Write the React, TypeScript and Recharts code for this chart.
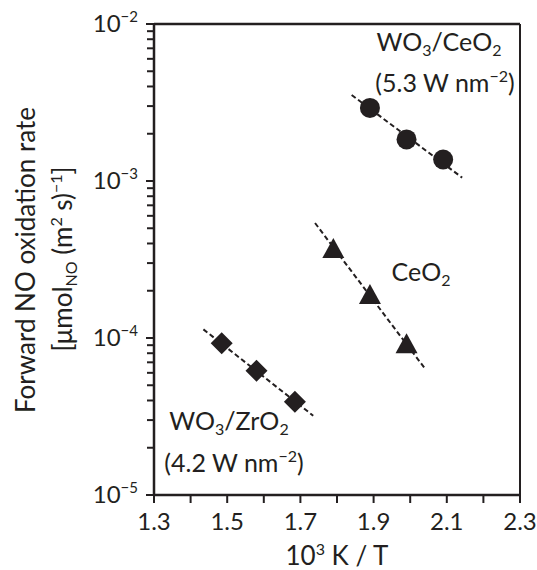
import React from 'react';
import { ScatterChart, Scatter, XAxis, YAxis, ReferenceLine, Customized } from 'recharts';

const INK = '#231f20';
const FONT = 'Lato, "Open Sans", sans-serif';

// axis ticks
const xTicks = [1.3, 1.4, 1.5, 1.6, 1.7, 1.8, 1.9, 2.0, 2.1, 2.2, 2.3];
const xTickLabels = ['1.3', '1.5', '1.7', '1.9', '2.1', '2.3'];
const yMajorTicks = [1e-5, 1e-4, 1e-3, 1e-2];
const yExponents = ['−5', '−4', '−3', '−2'];
const yMinorTicks = [
  2e-5, 3e-5, 4e-5, 5e-5, 6e-5, 7e-5, 8e-5, 9e-5,
  2e-4, 3e-4, 4e-4, 5e-4, 6e-4, 7e-4, 8e-4, 9e-4,
  2e-3, 3e-3, 4e-3, 5e-3, 6e-3, 7e-3, 8e-3, 9e-3,
];
const yTicks = [...yMajorTicks, ...yMinorTicks].sort((a, b) => a - b);

// measured rates
const wo3CeO2 = [
  { x: 1.89, y: 2.92e-3 },
  { x: 1.99, y: 1.84e-3 },
  { x: 2.09, y: 1.37e-3 },
];
const ceO2 = [
  { x: 1.79, y: 3.63e-4 },
  { x: 1.89, y: 1.85e-4 },
  { x: 1.99, y: 9.0e-5 },
];
const wo3ZrO2 = [
  { x: 1.485, y: 9.25e-5 },
  { x: 1.58, y: 6.19e-5 },
  { x: 1.685, y: 3.93e-5 },
];

// Arrhenius fits (end points)
const wo3CeO2Fit = [
  { x: 1.84, y: 3.53e-3 },
  { x: 2.142, y: 1.05e-3 },
];
const ceO2Fit = [
  { x: 1.74, y: 5.4e-4 },
  { x: 2.04, y: 6.4e-5 },
];
const wo3ZrO2Fit = [
  { x: 1.435, y: 1.135e-4 },
  { x: 1.735, y: 3.2e-5 },
];

const XTick = (props: any) => {
  const { x, y, payload } = props;
  const label = xTickLabels.find((l) => Math.abs(parseFloat(l) - payload.value) < 1e-6);
  return (
    <g>
      <line x1={x} x2={x} y1={y} y2={y + 8} stroke={INK} strokeWidth={2} />
      {label && (
        <text x={x} y={y + 35} textAnchor="middle" fontSize={24} fontFamily={FONT} fill={INK}>
          {label}
        </text>
      )}
    </g>
  );
};

const YTick = (props: any) => {
  const { x, y, payload } = props;
  const i = yMajorTicks.findIndex((t) => Math.abs(t - payload.value) / t < 1e-6);
  return (
    <g>
      <line x1={x - (i >= 0 ? 8 : 7)} x2={x} y1={y} y2={y} stroke={INK} strokeWidth={2} />
      {i >= 0 && (
        <text x={x - 16} y={y + 8} textAnchor="end" fontSize={24} fontFamily={FONT} fill={INK}>
          <tspan>10</tspan>
          <tspan dy={-10} fontSize={15}>{yExponents[i]}</tspan>
        </text>
      )}
    </g>
  );
};

const Dot = (p: any) => <circle cx={p.cx} cy={p.cy} r={10} fill={INK} />;
const Diamond = (p: any) => (
  <polygon
    points={`${p.cx},${p.cy - 11} ${p.cx + 11},${p.cy} ${p.cx},${p.cy + 11} ${p.cx - 11},${p.cy}`}
    fill={INK}
  />
);
const Triangle = (p: any) => (
  <polygon
    points={`${p.cx},${p.cy - 12} ${p.cx + 11},${p.cy + 8} ${p.cx - 11},${p.cy + 8}`}
    fill={INK}
  />
);
const NoDot = () => <g />;

const fitLine = { stroke: INK, strokeWidth: 2, strokeDasharray: '5 3' };

const Labels = () => {
  const t = { fontFamily: FONT, fill: INK, textAnchor: 'middle' as const };
  return (
    <g>
      <text {...t} fontSize={25} x={439} y={51}>
        WO<tspan dy={5} fontSize={16}>3</tspan>
        <tspan dy={-5}>/CeO</tspan>
        <tspan dy={5} fontSize={16}>2</tspan>
      </text>
      <text {...t} fontSize={25} x={445} y={92}>
        (5.3 W nm<tspan dy={-10} fontSize={16}>−2</tspan>
        <tspan dy={10}>)</tspan>
      </text>
      <text {...t} fontSize={25} x={421} y={281}>
        CeO<tspan dy={5} fontSize={16}>2</tspan>
      </text>
      <text {...t} fontSize={25} x={229} y={430}>
        WO<tspan dy={5} fontSize={16}>3</tspan>
        <tspan dy={-5}>/ZrO</tspan>
        <tspan dy={5} fontSize={16}>2</tspan>
      </text>
      <text {...t} fontSize={25} x={234} y={472}>
        (4.2 W nm<tspan dy={-10} fontSize={16}>−2</tspan>
        <tspan dy={10}>)</tspan>
      </text>
      <text {...t} fontSize={26} x={337} y={565}>
        10<tspan dy={-10} fontSize={16}>3</tspan>
        <tspan dy={10}> K / T</tspan>
      </text>
      <text {...t} fontSize={26} transform="rotate(-90)" x={-260} y={35}>
        Forward NO oxidation rate
      </text>
      <text {...t} fontSize={26} transform="rotate(-90)" x={-259} y={72}>
        [μmol<tspan dy={5} fontSize={16}>NO</tspan>
        <tspan dy={-5}> (m</tspan>
        <tspan dy={-10} fontSize={16}>2</tspan>
        <tspan dy={10}> s)</tspan>
        <tspan dy={-10} fontSize={16}>−1</tspan>
        <tspan dy={10}>]</tspan>
      </text>
    </g>
  );
};

export default function App() {
  return (
    <div style={{ position: 'absolute', left: 0, top: 0, background: '#fff' }}>
      <ScatterChart width={537} height={570} margin={{ top: 24, right: 17, bottom: 15, left: 0 }}>
        <XAxis
          type="number"
          dataKey="x"
          domain={[1.3, 2.3]}
          ticks={xTicks}
          interval={0}
          tick={<XTick />}
          tickLine={false}
          tickSize={0}
          tickMargin={0}
          height={60}
          axisLine={{ stroke: INK, strokeWidth: 2.5 }}
          allowDataOverflow
        />
        <YAxis
          type="number"
          dataKey="y"
          scale="log"
          domain={[1e-5, 1e-2]}
          ticks={yTicks}
          interval={0}
          tick={<YTick />}
          tickLine={false}
          tickSize={0}
          tickMargin={0}
          width={154}
          axisLine={{ stroke: INK, strokeWidth: 2.5 }}
          allowDataOverflow
        />
        <ReferenceLine y={1e-2} stroke={INK} strokeWidth={2.5} />
        <ReferenceLine x={2.3} stroke={INK} strokeWidth={2} />
        <Scatter data={wo3CeO2Fit} line={fitLine} shape={NoDot} isAnimationActive={false} />
        <Scatter data={ceO2Fit} line={fitLine} shape={NoDot} isAnimationActive={false} />
        <Scatter data={wo3ZrO2Fit} line={fitLine} shape={NoDot} isAnimationActive={false} />
        <Scatter data={wo3CeO2} shape={Dot} isAnimationActive={false} />
        <Scatter data={ceO2} shape={Triangle} isAnimationActive={false} />
        <Scatter data={wo3ZrO2} shape={Diamond} isAnimationActive={false} />
        <Customized component={Labels} />
      </ScatterChart>
    </div>
  );
}
